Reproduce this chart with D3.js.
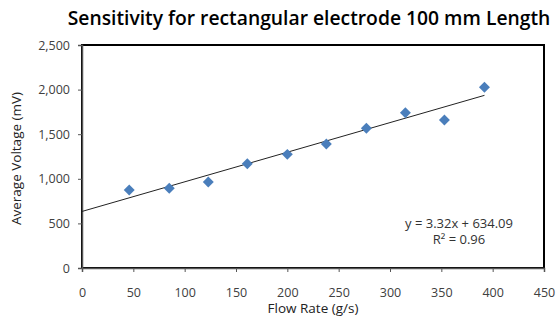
<!DOCTYPE html>
<html>
<head>
<meta charset="utf-8">
<script src="https://cdn.jsdelivr.net/npm/d3@7"></script>
<style>
  body { margin: 0; background: #fff; }
  text { font-family: "Open Sans", sans-serif; }
  .tick text { fill: #404040; font-size: 12.5px; }
  .axis-label { fill: #222; font-size: 13.5px; }
  .eq { fill: #333; font-size: 13px; }
  .title { fill: #000; font-size: 19.3px; font-weight: 600; }
</style>
</head>
<body>
<svg width="556" height="319"></svg>
<script>
  const svg = d3.select('svg');

  // flow rate (g/s) vs average voltage (mV)
  const flowRate = [46, 85, 123, 161, 200, 238, 277, 315, 353, 392];
  const voltage = [875, 893, 964, 1169, 1274, 1390, 1566, 1741, 1659, 2026];
  const xTicks = [0, 50, 100, 150, 200, 250, 300, 350, 400, 450];
  const yTicks = [0, 500, 1000, 1500, 2000, 2500];
  const slope = 3.32, intercept = 634.09;

  const data = flowRate.map((x, i) => ({ x, y: voltage[i] }));

  const margin = { top: 45, right: 12, bottom: 51, left: 82 };
  const width = +svg.attr('width');
  const height = +svg.attr('height');
  const innerWidth = width - margin.left - margin.right;
  const innerHeight = height - margin.top - margin.bottom;

  const xScale = d3.scaleLinear().domain([0, 450]).range([0, innerWidth]);
  const yScale = d3.scaleLinear().domain([0, 2500]).range([innerHeight, 0]);

  const g = svg.append('g')
    .attr('transform', `translate(${margin.left}, ${margin.top})`);

  // plot frame
  g.append('rect')
    .attr('width', innerWidth)
    .attr('height', innerHeight)
    .attr('fill', 'none')
    .attr('stroke', '#000')
    .attr('stroke-width', 2);

  const yAxisG = g.append('g')
    .call(d3.axisLeft(yScale).tickValues(yTicks).tickFormat(d3.format(',')).tickSize(4).tickPadding(8));
  yAxisG.select('.domain').attr('stroke', '#555').attr('stroke-width', 1.5);
  yAxisG.selectAll('.tick line').attr('stroke', '#555');

  const xAxisG = g.append('g')
    .attr('transform', `translate(0, ${innerHeight})`)
    .call(d3.axisBottom(xScale).tickValues(xTicks).tickSize(4).tickPadding(16));
  xAxisG.select('.domain').attr('stroke', '#555').attr('stroke-width', 1.5);
  xAxisG.selectAll('.tick line').attr('stroke', '#555');

  // linear trendline
  const xMax = d3.max(flowRate);
  g.append('line')
    .attr('x1', xScale(0))
    .attr('y1', yScale(intercept))
    .attr('x2', xScale(xMax))
    .attr('y2', yScale(slope * xMax + intercept))
    .attr('stroke', '#222')
    .attr('stroke-width', 1);

  g.selectAll('path.pt').data(data)
    .enter().append('path')
      .attr('class', 'pt')
      .attr('d', d3.symbol().type(d3.symbolSquare).size(60))
      .attr('transform', d => `translate(${xScale(d.x)}, ${yScale(d.y)}) rotate(45)`)
      .attr('fill', '#4a7ebb');

  g.append('text')
    .attr('class', 'eq')
    .attr('x', 377)
    .attr('y', 183)
    .attr('text-anchor', 'middle')
    .text(`y = ${slope}x + ${intercept}`);
  g.append('text')
    .attr('class', 'eq')
    .attr('x', 377)
    .attr('y', 199)
    .attr('text-anchor', 'middle')
    .text('R² = 0.96');

  svg.append('text')
    .attr('class', 'axis-label')
    .attr('transform', 'rotate(-90)')
    .attr('x', -(margin.top + innerHeight / 2 + 2))
    .attr('y', 21)
    .attr('text-anchor', 'middle')
    .text('Average Voltage (mV)');

  svg.append('text')
    .attr('class', 'axis-label')
    .attr('x', 313)
    .attr('y', 313)
    .attr('text-anchor', 'middle')
    .text('Flow Rate (g/s)');

  svg.append('text')
    .attr('class', 'title')
    .attr('x', 309)
    .attr('y', 25)
    .attr('text-anchor', 'middle')
    .text('Sensitivity for rectangular electrode 100 mm Length');
</script>
</body>
</html>
